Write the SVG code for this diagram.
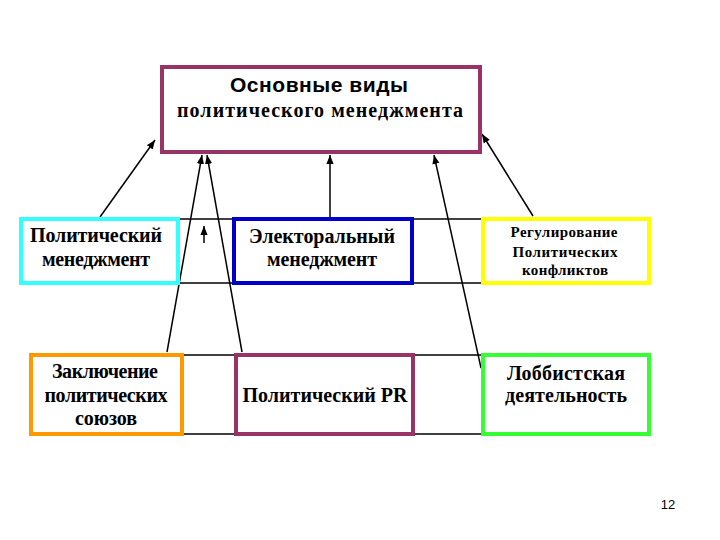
<svg xmlns="http://www.w3.org/2000/svg" width="720" height="540" viewBox="0 0 720 540">
<defs>
<marker id="ah" viewBox="0 0 10 10" refX="10" refY="5" markerWidth="9" markerHeight="9" markerUnits="userSpaceOnUse" orient="auto">
<path d="M0,1 L10,5 L0,9 z" fill="#000"/>
</marker>
</defs>
<style>
.box{fill:#fff;stroke-width:4}
.t{font-family:"Liberation Serif","Times New Roman",serif;font-weight:bold;font-size:20px;text-anchor:middle;fill:#000}
.s{font-size:15px}
.a{font-family:"Liberation Sans",Arial,sans-serif;font-weight:bold;font-size:21px;text-anchor:middle;fill:#000}
.ln{stroke:#000;stroke-width:1.3;fill:none}
.ar{stroke:#000;stroke-width:1.5;fill:none;marker-end:url(#ah)}
</style>
<rect width="720" height="540" fill="#fff"/>
<g id="grid">
<line class="ln" x1="20" y1="219" x2="650" y2="219"/>
<line class="ln" x1="20" y1="283" x2="650" y2="283"/>
<line class="ln" x1="30" y1="355" x2="650" y2="355"/>
<line class="ln" x1="30" y1="434" x2="650" y2="434"/>
</g>
<g id="connectors">
<line class="ar" x1="100" y1="217" x2="155" y2="140"/>
<line class="ar" x1="167" y1="352" x2="202" y2="155"/>
<line class="ar" x1="242" y1="352" x2="207" y2="155"/>
<line class="ar" x1="204" y1="243" x2="204" y2="226"/>
<line class="ar" x1="330" y1="217" x2="330" y2="155"/>
<line class="ar" x1="481" y1="368" x2="434" y2="155"/>
<line class="ar" x1="533" y1="216" x2="482" y2="134"/>
</g>
<g id="main">
<rect class="box" x="162" y="67" width="318" height="85" stroke="#993366"/>
<text class="a" x="319" y="92" textLength="178">Основные виды</text>
<text class="t" x="320" y="117" textLength="286">политического менеджмента</text>
</g>
<g id="n1">
<rect class="box" x="21" y="219" width="157" height="64" stroke="#33FFFF"/>
<text class="t" x="96" y="242" textLength="132">Политический</text>
<text class="t" x="96" y="266" textLength="108">менеджмент</text>
</g>
<g id="n2">
<rect class="box" x="234" y="219" width="178" height="64" stroke="#0000CC"/>
<text class="t" x="322" y="243" textLength="146">Электоральный</text>
<text class="t" x="322" y="266" textLength="110">менеджмент</text>
</g>
<g id="n3">
<rect class="box" x="483" y="219" width="166" height="64" stroke="#FFFF00"/>
<text class="t s" x="564" y="237" textLength="107">Регулирование</text>
<text class="t s" x="565" y="257" textLength="105">Политических</text>
<text class="t s" x="565" y="275" textLength="86">конфликтов</text>
</g>
<g id="n4">
<rect class="box" x="31" y="355" width="151" height="79" stroke="#FF9900"/>
<text class="t" x="105" y="378" textLength="106">Заключение</text>
<text class="t" x="106" y="402" textLength="123">политических</text>
<text class="t" x="106" y="425" textLength="62">союзов</text>
</g>
<g id="n5">
<rect class="box" x="236" y="355" width="177" height="79" stroke="#993366"/>
<text class="t" x="325" y="402" textLength="165">Политический PR</text>
</g>
<g id="n6">
<rect class="box" x="483" y="355" width="166" height="79" stroke="#33FF33"/>
<text class="t" x="566" y="380" textLength="118">Лоббистская</text>
<text class="t" x="566" y="402" textLength="122">деятельность</text>
</g>
<text x="668" y="509" font-family="Liberation Sans, Arial, sans-serif" font-size="13" text-anchor="middle">12</text>
</svg>
